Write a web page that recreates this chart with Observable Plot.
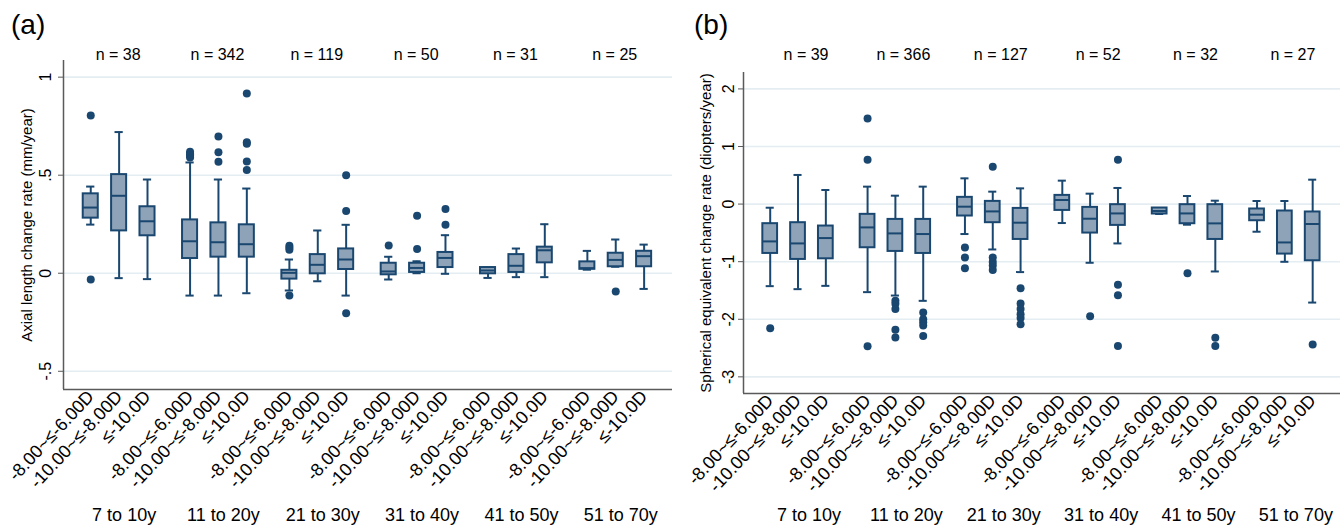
<!DOCTYPE html>
<html><head><meta charset="utf-8">
<script src="https://cdn.jsdelivr.net/npm/d3@7"></script>
<script src="https://cdn.jsdelivr.net/npm/@observablehq/plot@0.6"></script>
<style>
body{margin:0;background:#fff;}
#wrap{position:relative;width:1343px;height:531px;overflow:hidden;font-family:"Liberation Sans",Arial,sans-serif;background:#fff;}
.panel{position:absolute;top:0;}
.tag{position:absolute;top:11px;font-size:28px;line-height:1;color:#000;}
</style></head><body>
<div id="wrap">
<div id="pa" class="panel" style="left:0"></div>
<div id="pb" class="panel" style="left:680px"></div>
<div class="tag" style="left:11px">(a)</div>
<div class="tag" style="left:694px">(b)</div>
</div>
<script>
const groups = ["7 to 10y", "11 to 20y", "21 to 30y", "31 to 40y", "41 to 50y", "51 to 70y"];
const categories = ["-8.00~≤-6.00D", "-10.00~≤-8.00D", "≤-10.0D"];

const axialN = [38, 342, 119, 50, 31, 25];
const seN = [39, 366, 127, 52, 32, 27];

const axialTicks = [-0.5, 0, 0.5, 1];
const axialTickLabels = ["-.5", "0", ".5", "1"];
const seTicks = [-3, -2, -1, 0, 1, 2];
const seTickLabels = ["-3", "-2", "-1", "0", "1", "2"];

// Axial length change rate (mm/year): one entry per box (group x category)
const axialLow  = [0.248, -0.025, -0.03, -0.114, -0.114, -0.102, -0.088, -0.041, -0.114, -0.032, 0.0, -0.003, -0.024, -0.02, -0.02, 0.018, 0.033, -0.08];
const axialQ1   = [0.281, 0.216, 0.191, 0.075, 0.082, 0.082, -0.03, -0.003, 0.019, -0.008, 0.004, 0.029, -0.003, 0.004, 0.053, 0.02, 0.033, 0.033];
const axialMed  = [0.335, 0.395, 0.265, 0.163, 0.158, 0.148, 0.002, 0.043, 0.07, 0.009, 0.027, 0.078, 0.014, 0.038, 0.117, 0.026, 0.068, 0.087];
const axialQ3   = [0.405, 0.503, 0.339, 0.272, 0.257, 0.247, 0.015, 0.095, 0.124, 0.051, 0.051, 0.106, 0.029, 0.095, 0.133, 0.058, 0.102, 0.112];
const axialHigh = [0.442, 0.72, 0.478, 0.565, 0.478, 0.432, 0.07, 0.218, 0.247, 0.084, 0.061, 0.194, 0.029, 0.126, 0.25, 0.114, 0.172, 0.146];
const axialOut  = [
  [0.805, -0.032], [], [],
  [0.59, 0.60, 0.605, 0.61, 0.62], [0.697, 0.617, 0.568], [0.917, 0.668, 0.66, 0.57, 0.526],
  [0.14, 0.13, 0.12, -0.114], [], [0.5, 0.318, -0.204],
  [0.141], [0.293, 0.124], [0.327, 0.247],
  [], [], [],
  [], [-0.093], []
];

// Spherical equivalent change rate (diopters/year)
const seLow  = [-1.425, -1.477, -1.42, -1.529, -1.588, -1.68, -0.52, -0.788, -1.181, -0.329, -1.019, -0.683, -0.172, -0.358, -1.17, -0.48, -1.002, -1.71];
const seQ1   = [-0.857, -0.961, -0.95, -0.758, -0.822, -0.857, -0.207, -0.323, -0.614, -0.11, -0.503, -0.37, -0.172, -0.341, -0.614, -0.289, -0.868, -0.984];
const seMed  = [-0.648, -0.683, -0.59, -0.405, -0.509, -0.52, -0.045, -0.127, -0.323, 0.071, -0.254, -0.162, -0.12, -0.162, -0.335, -0.184, -0.666, -0.346];
const seQ3   = [-0.34, -0.323, -0.381, -0.178, -0.266, -0.266, 0.117, 0.047, -0.075, 0.151, -0.057, -0.01, -0.068, -0.01, -0.01, -0.085, -0.12, -0.137];
const seHigh = [-0.063, 0.506, 0.245, 0.303, 0.146, 0.303, 0.447, 0.216, 0.273, 0.407, 0.181, 0.28, -0.068, 0.14, 0.059, 0.054, 0.054, 0.424];
const seOut  = [
  [-2.155], [], [],
  [1.485, 0.772, -2.468], [-1.68, -1.73, -1.82, -2.18, -2.318], [-1.883, -2.0, -2.05, -2.11, -2.289],
  [-0.753, -0.927, -1.112], [0.65, -0.927, -1.007, -1.066, -1.146], [-1.46, -1.727, -1.82, -1.911, -1.98, -2.085],
  [], [-1.946], [0.772, -1.402, -1.581, -2.463],
  [], [-1.199], [-2.323, -2.463],
  [], [], [-2.44]
];

const navy = "#1a476f";
const boxFill = "#8ea3b8";
const axisCol = "#5a5a5a";
const font = "'Liberation Sans', Arial, sans-serif";
const GROUP_STEP = 3.5;
const xDomain = [-0.96, 20.5];
const HW = 0.265, CW = 0.145;

function panel(o) {
  const boxes = [];
  groups.forEach((g, gi) => categories.forEach((c, ci) => {
    const i = gi * 3 + ci;
    boxes.push({pos: gi * GROUP_STEP + ci, low: o.low[i], q1: o.q1[i], med: o.med[i], q3: o.q3[i], high: o.high[i]});
  }));
  const outliers = boxes.flatMap((b, i) => o.out[i].map(v => ({pos: b.pos, v})));
  const positions = boxes.map(b => b.pos);
  const gIdx = groups.map((g, i) => i);
  const mid = g => g * GROUP_STEP + 1;
  return Plot.plot({
    width: o.width, height: 531,
    marginTop: o.marginTop, marginBottom: o.marginBottom, marginLeft: o.marginLeft, marginRight: o.marginRight,
    style: {fontFamily: font, fontSize: "16px", background: "transparent", overflow: "visible", color: "#000"},
    x: {domain: xDomain, axis: null, label: null},
    y: {domain: o.yDomain, axis: null, label: null},
    marks: [
      Plot.gridY({ticks: o.ticks, stroke: "#e4edf1", strokeOpacity: 1, strokeWidth: 1.6}),
      Plot.ruleX(boxes, {x: "pos", y1: "low", y2: "high", stroke: navy, strokeWidth: 2}),
      Plot.ruleY(boxes, {y: "low", x1: d => d.pos - CW, x2: d => d.pos + CW, stroke: navy, strokeWidth: 2}),
      Plot.ruleY(boxes, {y: "high", x1: d => d.pos - CW, x2: d => d.pos + CW, stroke: navy, strokeWidth: 2}),
      Plot.rect(boxes, {x1: d => d.pos - HW, x2: d => d.pos + HW, y1: "q1", y2: "q3", fill: boxFill, stroke: navy, strokeWidth: 2}),
      Plot.ruleY(boxes, {y: "med", x1: d => d.pos - HW, x2: d => d.pos + HW, stroke: navy, strokeWidth: 2}),
      Plot.dot(outliers, {x: "pos", y: "v", r: 4, fill: navy, stroke: "none"}),
      Plot.ruleX([xDomain[0]], {stroke: axisCol, strokeWidth: 1.5}),
      Plot.ruleY([o.yDomain[0]], {stroke: axisCol, strokeWidth: 1.5}),
      Plot.axisY({ticks: o.ticks, tickFormat: d => o.tickLabels[o.ticks.indexOf(d)], tickRotate: -90, tickSize: 5, tickPadding: o.tickPad, fontSize: 16, stroke: axisCol, fill: "#000", label: null}),
      Plot.axisX({ticks: positions, tickFormat: d => categories[Math.round(d % GROUP_STEP)], tickRotate: -47, tickSize: 0, tickPadding: 4, fontSize: 18, fill: "#000", label: null}),
      Plot.text([o.yTitle], {frameAnchor: "left", text: d => d, rotate: -90, textAnchor: "middle", dx: o.titleDx, fontSize: 15, fill: "#000"}),
      Plot.text(gIdx, {x: mid, text: g => "n = " + o.n[g], frameAnchor: "top", dy: o.nDy, dx: o.nDx, fontSize: 16, fill: "#000"}),
      Plot.text(gIdx, {x: mid, text: g => groups[g], frameAnchor: "bottom", dy: o.gDy, dx: o.gDx, fontSize: 18, fill: "#000"})
    ]
  });
}

document.getElementById("pa").append(panel({
  width: 680, marginTop: 60, marginBottom: 142, marginLeft: 63, marginRight: 8,
  yDomain: [-0.593, 1.085], ticks: axialTicks, tickLabels: axialTickLabels, tickPad: 8,
  low: axialLow, q1: axialQ1, med: axialMed, q3: axialQ3, high: axialHigh, out: axialOut, n: axialN,
  yTitle: "Axial length change rate (mm/year)", titleDx: -36,
  nDy: -12, nDx: -1, gDy: 131, gDx: 5
}));

document.getElementById("pb").append(panel({
  width: 663, marginTop: 72, marginBottom: 138, marginLeft: 63, marginRight: 3,
  yDomain: [-3.289, 2.285], ticks: seTicks, tickLabels: seTickLabels, tickPad: 5,
  low: seLow, q1: seQ1, med: seMed, q3: seQ3, high: seHigh, out: seOut, n: seN,
  yTitle: "Spherical equivalent change rate (diopters/year)", titleDx: -37,
  nDy: -24, nDx: 8, gDy: 127, gDx: 11
}));
</script>
</body></html>
